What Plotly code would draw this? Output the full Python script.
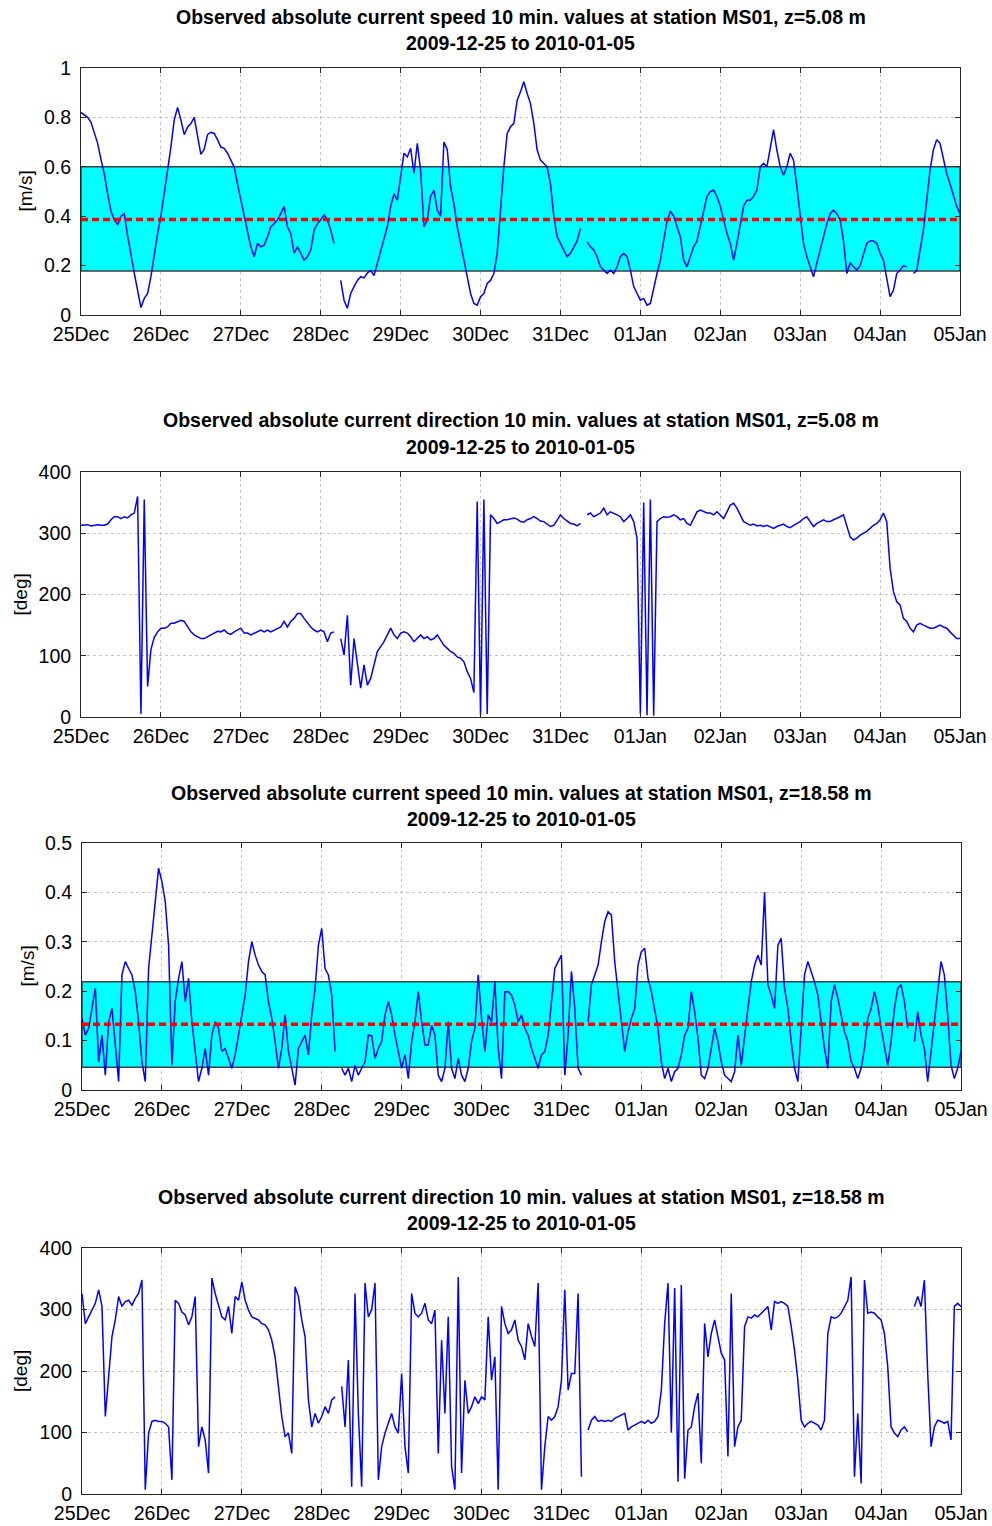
import pandas as pd
import plotly.graph_objects as go

START = "2009-12-25 00:00"
END = "2010-01-05 00:00"

TICK_DATES = ["2009-12-25", "2009-12-26", "2009-12-27", "2009-12-28", "2009-12-29",
              "2009-12-30", "2009-12-31", "2010-01-01", "2010-01-02", "2010-01-03",
              "2010-01-04", "2010-01-05"]

# hourly readings (None = data gap)
speed_5m = [
    0.82, 0.81, 0.80, 0.78, 0.74, 0.695, 0.63, 0.57, 0.49, 0.42,
    0.385, 0.365, 0.40, 0.41, 0.32, 0.236, 0.17, 0.10, 0.03, 0.067,
    0.087, 0.155, 0.25, 0.33, 0.40, 0.49, 0.586, 0.68, 0.79, 0.84,
    0.79, 0.73, 0.76, 0.775, 0.80, 0.72, 0.65, 0.67, 0.73, 0.74,
    0.735, 0.71, 0.68, 0.675, 0.655, 0.627, 0.60, 0.53, 0.465, 0.40,
    0.33, 0.276, 0.236, 0.29, 0.276, 0.283, 0.317, 0.357, 0.37, 0.385,
    0.41, 0.44, 0.357, 0.33, 0.25, 0.276, 0.25, 0.222, 0.236, 0.263,
    0.343, 0.37, 0.385, 0.405, 0.385, 0.343, 0.29, None, 0.14, 0.06,
    0.027, 0.087, 0.115, 0.14, 0.155, 0.15, 0.17, 0.18, 0.16, 0.21,
    0.25, 0.30, 0.357, 0.44, 0.49, 0.465, 0.57, 0.655, 0.64, 0.675,
    0.573, 0.695, 0.586, 0.357, 0.385, 0.48, 0.505, 0.425, 0.40, 0.70,
    0.67, 0.52, 0.45, 0.357, 0.29, 0.222, 0.155, 0.087, 0.047, 0.04,
    0.074, 0.087, 0.128, 0.14, 0.168, 0.25, 0.425, 0.60, 0.735, 0.762,
    0.776, 0.87, 0.904, 0.944, 0.897, 0.856, 0.776, 0.668, 0.627, 0.614,
    0.60, 0.53, 0.40, 0.317, 0.29, 0.263, 0.236, 0.25, 0.276, 0.30,
    0.35, None, 0.296, 0.276, 0.263, 0.236, 0.195, 0.182, 0.168, 0.182,
    0.168, 0.195, 0.236, 0.25, 0.236, 0.182, 0.115, 0.087, 0.06, 0.067,
    0.04, 0.047, 0.115, 0.168, 0.222, 0.30, 0.38, 0.42, 0.40, 0.357,
    0.317, 0.222, 0.195, 0.236, 0.276, 0.30, 0.357, 0.425, 0.48, 0.50,
    0.506, 0.48, 0.44, 0.385, 0.33, 0.29, 0.222, 0.29, 0.37, 0.44,
    0.465, 0.465, 0.48, 0.506, 0.60, 0.614, 0.60, 0.68, 0.75, 0.668,
    0.60, 0.566, 0.60, 0.655, 0.627, 0.52, 0.41, 0.29, 0.236, 0.195,
    0.155, 0.21, 0.263, 0.317, 0.37, 0.41, 0.425, 0.41, 0.385, 0.30,
    0.168, 0.21, 0.195, 0.182, 0.20, 0.25, 0.29, 0.30, 0.30, 0.29,
    0.25, 0.222, 0.155, 0.074, 0.10, 0.168, 0.182, 0.20, 0.195, None,
    0.168, 0.18, 0.263, 0.343, 0.465, 0.586, 0.668, 0.71, 0.695, 0.627,
    0.573, 0.53, 0.48, 0.44, 0.41,
]

direction_5m = [
    313, 313, 314, 312, 313, 314, 313, 313, 315, 322,
    327, 327, 324, 327, 325, 330, 333, 360, 5, 355,
    50, 110, 130, 139, 145, 145, 147, 153, 153, 156,
    158, 156, 147, 139, 134, 131, 128, 128, 131, 134,
    137, 140, 139, 142, 137, 135, 139, 142, 145, 137,
    137, 134, 137, 139, 142, 139, 142, 139, 142, 145,
    147, 156, 147, 156, 161, 169, 169, 161, 153, 147,
    142, 139, 142, 139, 123, 137, 139, None, 128, 101,
    166, 52, 128, 85, 47, 85, 52, 63, 85, 107,
    115, 123, 134, 145, 134, 128, 137, 139, 137, 131,
    123, 128, 134, 128, 131, 126, 128, 134, 126, 117,
    112, 107, 104, 98, 96, 90, 74, 63, 40, 352,
    3, 355, 5, 330, 324, 316, 319, 322, 322, 324,
    325, 323, 319, 318, 322, 324, 327, 324, 320, 319,
    315, 311, 313, 322, 330, 324, 320, 316, 315, 312,
    316, None, 330, 333, 327, 330, 333, 341, 330, 335,
    333, 330, 327, 319, 324, 330, 319, 292, 5, 350,
    3, 355, 2, 319, 324, 327, 326, 327, 330, 327,
    322, 324, 316, 313, 324, 335, 338, 335, 333, 333,
    330, 335, 330, 324, 335, 346, 349, 341, 330, 319,
    316, 313, 315, 312, 313, 311, 313, 311, 308, 311,
    313, 315, 311, 309, 313, 316, 319, 324, 327, 319,
    311, 316, 319, 322, 319, 319, 322, 324, 327, 330,
    311, 294, 289, 292, 297, 300, 303, 308, 313, 316,
    322, 333, 319, 243, 205, 188, 183, 161, 156, 145,
    139, 150, 153, 150, 147, 145, 145, 147, 150, 147,
    145, 139, 134, 128, 128,
]

speed_18m = [
    0.145, 0.111, 0.125, 0.165, 0.206, 0.057, 0.111, 0.030, 0.138, 0.165,
    0.098, 0.017, 0.233, 0.26, 0.246, 0.233, 0.199, 0.138, 0.057, 0.017,
    0.246, 0.314, 0.381, 0.449, 0.422, 0.381, 0.293, 0.05, 0.179, 0.226,
    0.26, 0.179, 0.226, 0.138, 0.078, 0.017, 0.044, 0.084, 0.030, 0.111,
    0.138, 0.125, 0.078, 0.084, 0.064, 0.044, 0.071, 0.111, 0.158, 0.192,
    0.26, 0.30, 0.273, 0.253, 0.24, 0.233, 0.179, 0.145, 0.098, 0.044,
    0.084, 0.152, 0.078, 0.044, 0.010, 0.084, 0.098, 0.111, 0.071, 0.152,
    0.206, 0.293, 0.327, 0.246, 0.233, 0.192, 0.078, None, 0.044, 0.03,
    0.044, 0.017, 0.05, 0.03, 0.044, 0.057, 0.111, 0.11, 0.064, 0.084,
    0.098, 0.152, 0.179, 0.152, 0.111, 0.078, 0.044, 0.071, 0.023, 0.098,
    0.138, 0.199, 0.138, 0.091, 0.091, 0.131, 0.111, 0.030, 0.017, 0.044,
    0.138, 0.044, 0.023, 0.064, 0.030, 0.017, 0.044, 0.098, 0.125, 0.233,
    0.145, 0.078, 0.152, 0.138, 0.219, 0.084, 0.023, 0.199, 0.199, 0.192,
    0.172, 0.138, 0.152, 0.125, 0.111, 0.084, 0.064, 0.044, 0.071, 0.078,
    0.111, 0.186, 0.246, 0.26, 0.273, 0.03, 0.111, 0.24, 0.165, 0.044,
    0.03, None, 0.138, 0.213, 0.233, 0.253, 0.30, 0.341, 0.361, 0.354,
    0.26, 0.192, 0.138, 0.078, 0.118, 0.145, 0.165, 0.253, 0.28, 0.287,
    0.226, 0.199, 0.158, 0.125, 0.057, 0.023, 0.044, 0.017, 0.037, 0.044,
    0.071, 0.111, 0.125, 0.199, 0.158, 0.105, 0.030, 0.023, 0.044, 0.084,
    0.125, 0.098, 0.057, 0.03, 0.023, 0.017, 0.037, 0.111, 0.05, 0.111,
    0.165, 0.219, 0.253, 0.273, 0.253, 0.401, 0.213, 0.192, 0.165, 0.293,
    0.307, 0.206, 0.165, 0.098, 0.044, 0.017, 0.125, 0.233, 0.26, 0.24,
    0.219, 0.192, 0.138, 0.084, 0.044, 0.179, 0.213, 0.186, 0.152, 0.118,
    0.098, 0.057, 0.044, 0.023, 0.044, 0.084, 0.145, 0.165, 0.199, 0.172,
    0.125, 0.084, 0.05, 0.098, 0.165, 0.206, 0.213, 0.179, 0.125, None,
    0.098, 0.158, 0.111, 0.084, 0.017, 0.078, 0.138, 0.206, 0.26, 0.233,
    0.152, 0.05, 0.023, 0.044, 0.078,
]

direction_18m = [
    326, 277, 288, 299, 310, 332, 305, 126, 191, 256,
    283, 321, 305, 313, 315, 307, 318, 326, 348, 7,
    99, 118, 120, 118, 118, 115, 109, 23, 315, 310,
    296, 291, 275, 288, 321, 77, 109, 88, 34, 351,
    326, 305, 288, 283, 305, 261, 321, 315, 345, 315,
    299, 288, 286, 283, 277, 275, 267, 250, 223, 169,
    126, 93, 99, 66, 337, 321, 283, 256, 153, 109,
    131, 115, 126, 142, 131, 153, 158, None, 175, 109,
    218, 12, 326, 131, 12, 343, 288, 300, 343, 23,
    77, 99, 115, 131, 109, 99, 196, 77, 34, 326,
    294, 288, 294, 310, 283, 277, 299, 66, 250, 131,
    288, 45, 7, 353, 34, 185, 131, 142, 158, 147,
    158, 153, 288, 185, 223, 7, 305, 277, 261, 267,
    283, 250, 240, 218, 277, 256, 240, 343, 7, 77,
    126, 120, 126, 142, 185, 332, 169, 196, 196, 326,
    28, None, 104, 120, 126, 118, 120, 118, 120, 118,
    123, 126, 128, 131, 104, 109, 112, 115, 118, 115,
    120, 115, 118, 126, 169, 277, 343, 100, 335, 20,
    340, 25, 104, 109, 142, 164, 50, 277, 223, 261,
    283, 256, 229, 218, 61, 326, 77, 109, 120, 272,
    288, 286, 291, 288, 294, 299, 305, 267, 313, 310,
    313, 310, 305, 272, 234, 185, 120, 109, 115, 118,
    115, 112, 104, 120, 261, 288, 286, 288, 294, 305,
    315, 353, 28, 131, 17, 348, 294, 296, 294, 288,
    283, 261, 207, 109, 99, 93, 104, 109, 101, None,
    305, 321, 305, 348, 196, 77, 109, 120, 118, 115,
    118, 88, 305, 310, 305,
]

# mean and +/- one standard deviation band of the speed panels
speed_5m_band = (0.178, 0.387, 0.600)
speed_18m_band = (0.046, 0.133, 0.219)

TITLES = [
    "Observed absolute current speed 10 min. values at station MS01, z=5.08 m",
    "Observed absolute current direction 10 min. values at station MS01, z=5.08 m",
    "Observed absolute current speed 10 min. values at station MS01, z=18.58 m",
    "Observed absolute current direction 10 min. values at station MS01, z=18.58 m",
]
SUBTITLE = "2009-12-25 to 2010-01-05"
YLABELS = ["[m/s]", "[deg]", "[m/s]", "[deg]"]

W, H = 992, 1526
FONT = "Liberation Sans, Arial, sans-serif"

# pixel geometry of each panel: (left, right, top, bottom)
PANELS = [(81, 960, 68, 315), (81, 960, 472, 717), (82, 961, 843, 1090), (82, 961, 1248, 1494)]
TITLE_Y = [(17, 43), (420, 447), (793, 819), (1197, 1223)]
YLABEL_X = [25, 20, 27, 20]
YRANGES = [(0, 1, 0.2), (0, 400, 100), (0, 0.5, 0.1), (0, 400, 100)]

series = [speed_5m, direction_5m, speed_18m, direction_18m]
bands = [speed_5m_band, None, speed_18m_band, None]

fig = go.Figure()
shapes = []
annotations = []
layout = {}

for i in range(4):
    n = i + 1
    xa = "x" if n == 1 else f"x{n}"
    ya = "y" if n == 1 else f"y{n}"
    l, r, t, b = PANELS[i]
    vals = series[i]
    times = pd.date_range(START, periods=len(vals), freq="h")
    fig.add_trace(go.Scatter(x=times, y=vals, mode="lines",
                             line=dict(color="#0000ff", width=1.5),
                             connectgaps=False, showlegend=False,
                             xaxis=xa, yaxis=ya, hoverinfo="skip"))
    axis_common = dict(showline=True, linecolor="#262626", linewidth=1, mirror="ticks",
                       ticks="inside", ticklen=5, tickcolor="#262626", automargin=False,
                       showgrid=True, gridcolor="#c4c4c4", griddash="dot", gridwidth=1,
                       zeroline=False, tickfont=dict(family=FONT, size=19.5, color="#000"))
    layout[f"xaxis{'' if n == 1 else n}"] = dict(
        domain=[l / W, r / W], anchor=ya, type="date", range=[START, END],
        tickvals=TICK_DATES, tickformat="%d%b", ticklabelstandoff=2, **axis_common)
    y0, y1, dt = YRANGES[i]
    layout[f"yaxis{'' if n == 1 else n}"] = dict(
        domain=[1 - b / H, 1 - t / H], anchor=xa, range=[y0, y1], dtick=dt, tick0=0,
        ticklabelstandoff=5, **axis_common)
    if bands[i] is not None:
        lo, mean, hi = bands[i]
        shapes.append(dict(type="rect", xref=xa, yref=ya, x0=START, x1=END, y0=lo, y1=hi,
                           fillcolor="#00ffff", line=dict(color="#404040", width=1.5),
                           layer="between"))
        shapes.append(dict(type="line", xref=xa, yref=ya, x0=START, x1=END, y0=mean, y1=mean,
                           line=dict(color="#ff0000", width=3.5, dash="7px,4px"),
                           layer="above"))
    cx = (l + r) / 2 / W
    annotations.append(dict(text=f"<b>{TITLES[i]}</b>", xref="paper", yref="paper",
                            x=cx, y=1 - TITLE_Y[i][0] / H, xanchor="center", yanchor="middle",
                            showarrow=False, font=dict(family=FONT, size=19.5, color="#000")))
    annotations.append(dict(text=f"<b>{SUBTITLE}</b>", xref="paper", yref="paper",
                            x=cx, y=1 - TITLE_Y[i][1] / H, xanchor="center", yanchor="middle",
                            showarrow=False, font=dict(family=FONT, size=19.5, color="#000")))
    annotations.append(dict(text=YLABELS[i], xref="paper", yref="paper",
                            x=YLABEL_X[i] / W, y=1 - (t + b) / 2 / H, textangle=-90,
                            xanchor="center", yanchor="middle", showarrow=False,
                            font=dict(family=FONT, size=19, color="#000")))

fig.update_layout(width=W, height=H, margin=dict(l=0, r=0, t=0, b=0),
                  paper_bgcolor="white", plot_bgcolor="white",
                  shapes=shapes, annotations=annotations, showlegend=False, **layout)

fig.write_html("out.html")
